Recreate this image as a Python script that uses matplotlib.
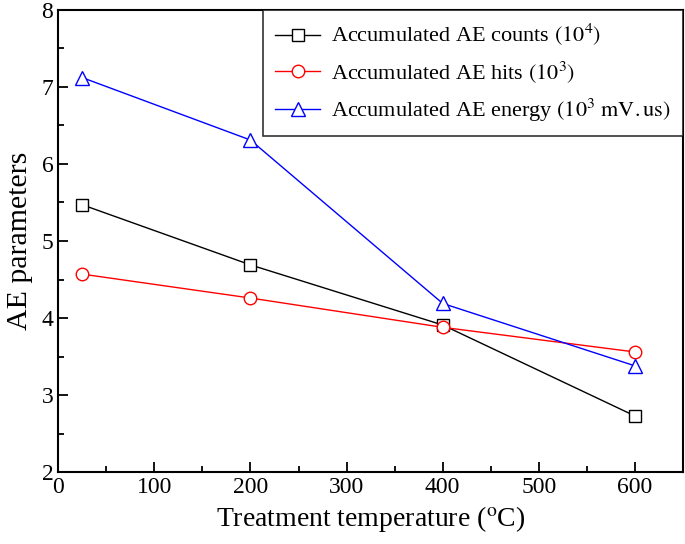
import matplotlib
matplotlib.use('Agg')
import matplotlib.pyplot as plt
from matplotlib.ticker import MultipleLocator

plt.rcParams['font.family'] = ['Liberation Serif', 'DejaVu Serif']
plt.rcParams['mathtext.fontset'] = 'stix'

temperature = [25, 200, 400, 600]
ae_counts = [5.47, 4.69, 3.91, 2.73]
ae_hits = [4.57, 4.26, 3.88, 3.56]
ae_energy = [7.12, 6.31, 4.19, 3.38]

labels = [r'Accumulated AE counts $\left(10^4\right)$',
          r'Accumulated AE hits $\left(10^3\right)$',
          r'Accumulated AE energy $\left(10^3\ \mathrm{mV.us}\right)$']

fig = plt.figure(figsize=(6.85, 5.44), dpi=100)
ax = fig.add_axes([0.085, 0.132, 0.912, 0.85])

ax.plot(temperature, ae_counts, 'k-', marker='s', mfc='white', mec='black',
        markersize=8, lw=1, label=labels[0])
ax.plot(temperature, ae_hits, 'r-', marker='o', mfc='white', mec='red',
        markersize=9, lw=1, label=labels[1])
ax.plot(temperature, ae_energy, 'b-', marker='^', mfc='white', mec='blue',
        markersize=10, lw=1, label=labels[2])

ax.set_xlim(0, 650)
ax.set_ylim(2, 8)
ax.xaxis.set_major_locator(MultipleLocator(100))
ax.xaxis.set_minor_locator(MultipleLocator(50))
ax.yaxis.set_major_locator(MultipleLocator(1))
ax.yaxis.set_minor_locator(MultipleLocator(0.5))
ax.tick_params(which='both', direction='in', top=False, right=False,
               labelsize=17, width=1.3)
ax.tick_params(which='major', length=7)
ax.tick_params(which='minor', length=4)
for s in ax.spines.values():
    s.set_linewidth(1.5)

ax.set_xlabel(r'Treatment temperature ($^{\mathrm{o}}$C)', fontsize=20)
ax.set_ylabel('AE parameters', fontsize=21.5, labelpad=6)

leg = ax.legend(loc='upper right', fontsize=16, fancybox=False,
                edgecolor='black', handlelength=2.0, handletextpad=0.5,
                borderaxespad=0, labelspacing=0.5, borderpad=0.55)
leg.get_frame().set_linewidth(1.2)

fig.savefig('out.png', dpi=100)
